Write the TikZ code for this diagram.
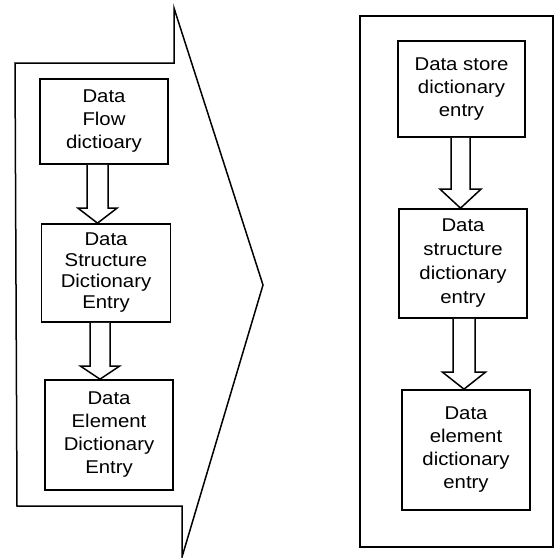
\documentclass[tikz,border=0pt]{standalone}
\usepackage{fontspec}
\setmainfont{Liberation Sans}[FakeStretch=1.1]
\usetikzlibrary{calc}
\tikzset{
  box/.style={draw, line width=1.7pt, inner sep=0pt, align=center,
    font=\fontsize{18.5}{23}\selectfont},
  hollow/.style={draw, line width=1.5pt, line join=miter, fill=white},
  outline/.style={draw, line width=1.5pt, line join=miter}
}
\newcommand\holarrow[6]{%
  \coordinate (s) at (#1.south -| #3,0);
  \coordinate (t) at (#2.north -| #3,0);
  \draw[hollow] ([xshift=-#4pt]s) -- ([xshift=-#4pt,yshift=#6pt]t)
    -- ([xshift=-#5pt,yshift=#6pt]t) -- (t)
    -- ([xshift=#5pt,yshift=#6pt]t) -- ([xshift=#4pt,yshift=#6pt]t)
    -- ([xshift=#4pt]s);
}
\begin{document}
\begin{tikzpicture}[x=1pt,y=-1pt]
\useasboundingbox (0,0) rectangle (556,558);
% left chevron outline
\coordinate (L1) at (15,63);
\coordinate (L2) at (174,63);
\coordinate (L3) at (174,8);
\coordinate (L4) at (263,285);
\coordinate (L5) at (182,557);
\coordinate (L6) at (182,506);
\coordinate (L7) at (17,506);
\draw[outline] (L1) -- (L2) -- (L3) -- (L4) -- (L5) -- (L6) -- (L7) -- cycle;
% right frame
\coordinate (R1) at (360,16);
\coordinate (R2) at (553,547);
\draw[outline] (R1) rectangle (R2);
% left boxes
\node[box, minimum width=128pt, minimum height=85pt] (b1) at (104,121.5) {Data\\Flow\\dictioary};
\node[box, minimum width=129pt, minimum height=98pt, font=\fontsize{18.5}{21}\selectfont] (b2) at (106,273) {Data\\Structure\\Dictionary\\Entry};
\node[box, minimum width=128pt, minimum height=110pt] (b3) at (109,435) {Data\\Element\\Dictionary\\Entry};
% right boxes
\node[box, minimum width=127pt, minimum height=96pt] (r1) at (461.5,89) {Data store\\dictionary\\entry};
\node[box, minimum width=128pt, minimum height=109pt, font=\fontsize{18.5}{24}\selectfont] (r2) at (463,263.5) {Data\\structure\\dictionary\\entry};
\node[box, minimum width=128pt, minimum height=120pt] (r3) at (466,450) {Data\\element\\dictionary\\entry};
% hollow arrows
\holarrow{b1}{b2}{97.5}{10.5}{19.5}{15}
\holarrow{b2}{b3}{100}{10}{19.5}{13}
\holarrow{r1}{r2}{460.5}{9.5}{20.5}{19}
\holarrow{r2}{r3}{464}{11}{21.5}{17}
\end{tikzpicture}
\end{document}
